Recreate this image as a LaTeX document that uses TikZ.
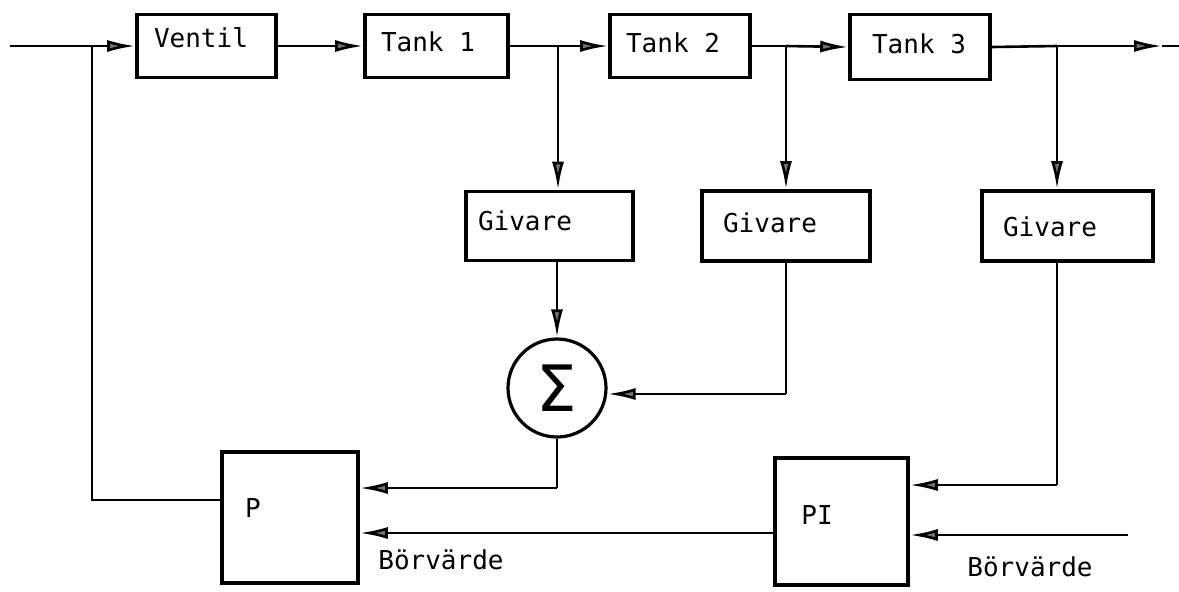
\documentclass[tikz,border=0pt]{standalone}
\usepackage{fontspec}
\setmainfont{DejaVu Sans Mono}
\newfontfamily\symfont{DejaVu Sans}
\usetikzlibrary{arrows.meta}
\begin{document}
\begin{tikzpicture}[x=0.5pt,y=-0.5pt,
  blk/.style={draw, line width=1.8pt, inner sep=0pt},
  lbl/.style={font=\fontsize{13}{15}\selectfont, inner sep=0pt},
  conn/.style={line width=1.3pt},
  arr/.style={conn, -{Latex[length=14pt,width=6pt,fill=black!55]}},
]
\useasboundingbox (0,0) rectangle (1179,591);
% boxes
\node[blk, minimum width=69.5pt, minimum height=31.5pt] (V)  at (206.5,46) {};
\node[blk, minimum width=71.5pt, minimum height=31.5pt] (T1) at (436.5,46) {};
\node[blk, minimum width=70pt,   minimum height=31.5pt] (T2) at (680,46) {};
\node[blk, minimum width=70pt,   minimum height=32.5pt] (T3) at (920,47) {};
\node[blk, minimum width=83.5pt, minimum height=34.5pt] (G1) at (549.5,226) {};
\node[blk, minimum width=84pt,   minimum height=35pt]   (G2) at (786,226) {};
\node[blk, minimum width=85.5pt, minimum height=35pt]   (G3) at (1067.5,226) {};
\node[blk, minimum width=68pt,   minimum height=65.5pt] (P)  at (290,517.5) {};
\node[blk, minimum width=66.5pt, minimum height=63.5pt] (PI) at (841.5,521.5) {};
\node[draw, circle, line width=1.6pt, minimum size=49pt, inner sep=0pt,
      font=\symfont\fontsize{32}{32}\selectfont] (S) at (557,388) {Σ};
% texts
\node[lbl] (tV)  at (201,38)  {Ventil};
\node[lbl] (tT1) at (428,42)  {Tank 1};
\node[lbl] (tT2) at (673,43)  {Tank 2};
\node[lbl] (tT3) at (919,44)  {Tank 3};
\node[lbl] (tG1) at (525,221) {Givare};
\node[lbl] (tG2) at (770,223) {Givare};
\node[lbl] (tG3) at (1050,227) {Givare};
\node[lbl] (tP)  at (253,508) {P};
\node[lbl] (tPI) at (817,515) {PI};
\node[lbl] (tB1) at (441,560) {Börvärde};
\node[lbl] (tB2) at (1030,567) {Börvärde};
% coordinates
\coordinate (in0) at (10,46);
\coordinate (j0) at (92,46);
\coordinate (j1) at (558,46);
\coordinate (j2) at (786,46);
\coordinate (j3) at (1057,46);
\coordinate (out) at (1162,46);
\coordinate (edge) at (1179,46);
\coordinate (c1) at (557,488);
\coordinate (c2) at (786,394);
\coordinate (c3) at (1057,485);
\coordinate (bin) at (1128,535);
\coordinate (pp) at (600,533);
\coordinate (fb) at (92,500);
% main line
\draw[conn] (in0) -- (j0);
\draw[arr] (j0) -- (V.west);
\draw[arr] (V.east) -- (T1.west);
\draw[conn] (T1.east) -- (j1);
\draw[arr] (j1) -- (T2.west);
\draw[conn] (T2.east) -- (j2);
\draw[arr] (j2) -- (T3.west);
\draw[conn] (T3.east) -- (j3);
\draw[arr] (j3) -- (out);
\draw[conn] (out) -- (edge);
% taps
\draw[arr] (j1) -- (j1 |- G1.north);
\draw[arr] (j2) -- (j2 |- G2.north);
\draw[arr] (j3) -- (j3 |- G3.north);
% sensors to sum / controllers
\draw[arr] (S.north |- G1.south) -- (S.north);
\draw[conn] (c2 |- G2.south) -- (c2);
\draw[arr] (c2) -- (c2 -| S.east);
\draw[conn] (S.south) -- (c1);
\draw[arr] (c1) -- (c1 -| P.east);
\draw[conn] (c3 |- G3.south) -- (c3);
\draw[arr] (c3) -- (c3 -| PI.east);
\draw[arr] (bin) -- (bin -| PI.east);
\draw[arr] (PI.west |- pp) -- (P.east |- pp);
\draw[conn] (P.west |- fb) -- (fb) -- (j0);
\end{tikzpicture}
\end{document}
